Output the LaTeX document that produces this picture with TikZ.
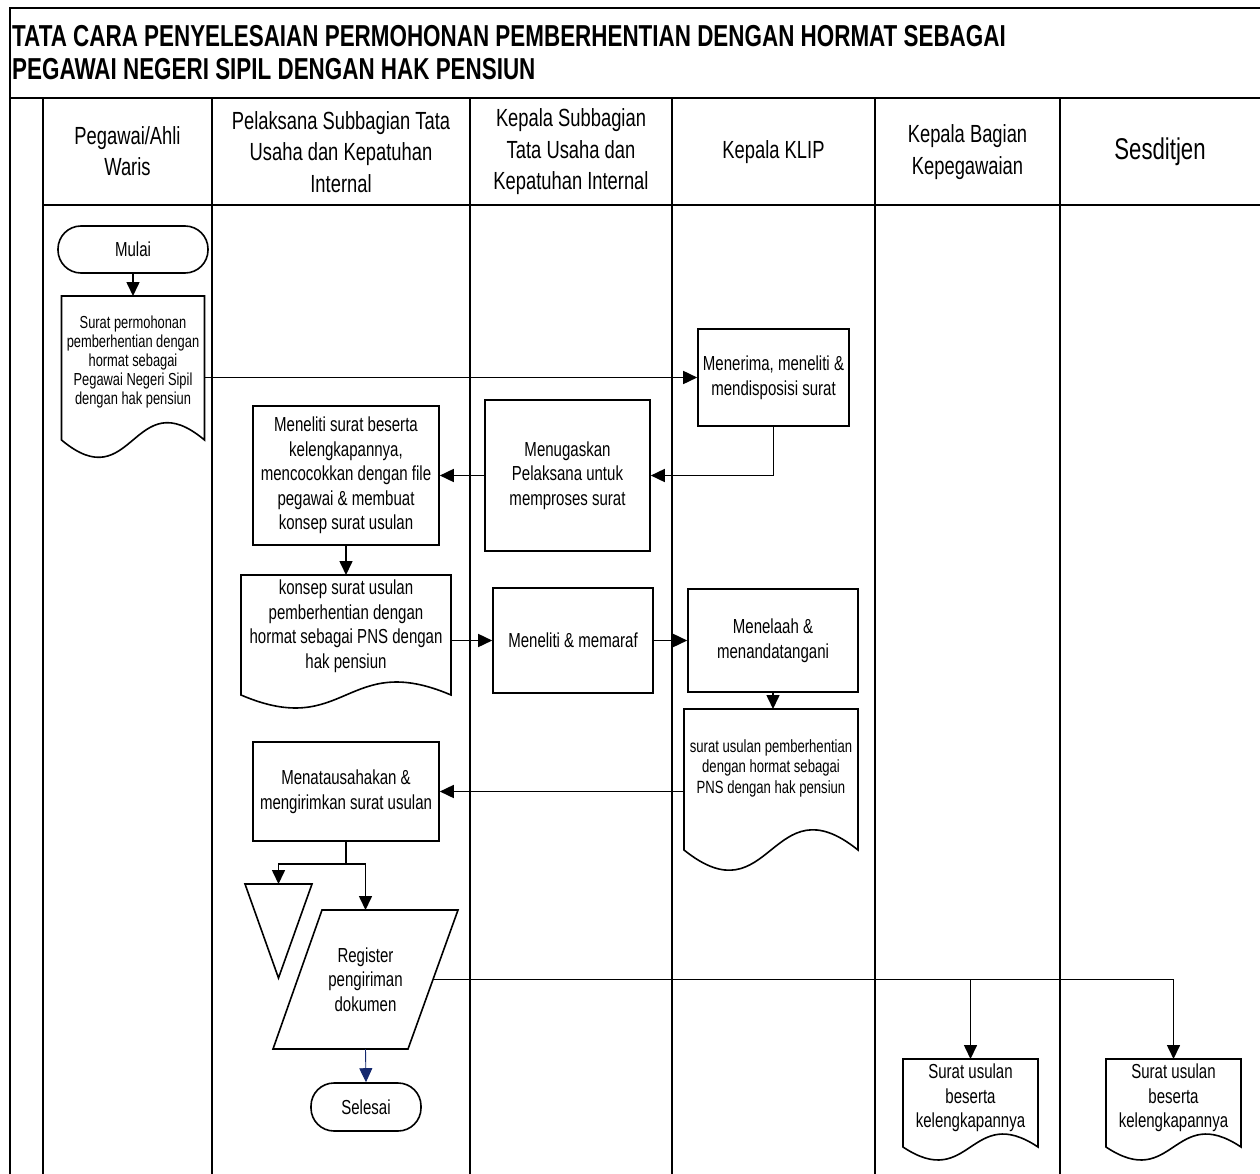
\documentclass[tikz,border=0pt]{standalone}
\usepackage{fontspec}
\setmainfont{Liberation Sans}[FakeStretch=0.74]
\usetikzlibrary{arrows.meta,calc}
\definecolor{navyarrow}{RGB}{20,40,110}
\newcommand\fsz[2]{\fontsize{#1}{#2}\selectfont}
\newcommand\docoutline[2]{\draw[shp] (#1.north west) -- (#1.north east) -- (#1.south east) .. controls ($(#1.south)+(0,-#2)$) and ($(#1.south)+(0,#2)$) .. (#1.south west) -- cycle;}
\begin{document}
\begin{tikzpicture}[x=1pt,y=-1pt,
  box/.style={draw, line width=1.6pt, align=center, inner sep=0pt, font=\fsz{20.3}{24.5}},
  term/.style={box, rounded corners=23pt},
  frame/.style={draw=none, inner sep=0pt, outer sep=0pt},
  shp/.style={line width=1.6pt, line join=miter},
  txt/.style={align=center, inner sep=0pt, font=\fsz{20.3}{24.5}},
  arr/.style={line width=1.6pt, -{Triangle[length=14pt,width=13pt]}},
  conn/.style={line width=1.6pt},
  lane/.style={line width=2pt},
  hdr/.style={align=center, inner sep=0pt, font=\fsz{24.8}{31.5}},
  ttl/.style={anchor=base west, inner sep=0pt, font=\bfseries\fsz{30.3}{33}}
]
\useasboundingbox (0,0) rectangle (1260,1174);
\fill[white] (0,0) rectangle (1260,1174);

% frame and lanes
\draw[line width=2.5pt] (10,1180) -- (10,8) -- (1270,8);
\draw[lane] (10,98) -- (1270,98);
\draw[lane] (43,98) -- (43,1180);
\draw[lane] (43,205) -- (1270,205);
\foreach \x in {212,470,672,875,1060} \draw[lane] (\x,98) -- (\x,1180);

% title
\node[ttl] (title1) at (12,47) {TATA CARA PENYELESAIAN PERMOHONAN PEMBERHENTIAN DENGAN HORMAT SEBAGAI};
\node[ttl] (title2) at (12,80) {PEGAWAI NEGERI SIPIL DENGAN HAK PENSIUN};

% headers
\node[hdr] (h1) at (127.5,151) {Pegawai/Ahli\\Waris};
\node[hdr] (h2) at (341,152) {Pelaksana Subbagian Tata\\Usaha dan Kepatuhan\\Internal};
\node[hdr] (h3) at (571,152) {Kepala Subbagian\\Tata Usaha dan\\Kepatuhan Internal};
\node[hdr] (h4) at (773.5,152) {Kepala KLIP};
\node[hdr] (h5) at (967.5,152) {Kepala Bagian\\Kepegawaian};
\node[hdr, font=\fsz{30}{34}] (h6) at (1160,152) {Sesditjen};

% nodes
\node[term, minimum width=150, minimum height=47] (mulai) at (133,249.5) {Mulai};
\node[frame, minimum width=143, minimum height=144, anchor=north] (d1) at (133,296) {};
\node[txt, font=\fsz{17.4}{19}] (d1t) at (133,362) {Surat permohonan\\pemberhentian dengan\\hormat sebagai\\Pegawai Negeri Sipil\\dengan hak pensiun};
\node[box, minimum width=151, minimum height=97] (menerima) at (773.5,377.5) {Menerima, meneliti \&\\mendisposisi surat};
\node[box, minimum width=165, minimum height=151] (menugaskan) at (567.5,475.5) {Menugaskan\\Pelaksana untuk\\memproses surat};
\node[box, minimum width=186, minimum height=139] (meneliti) at (346,475.5) {Meneliti surat beserta\\kelengkapannya,\\mencocokkan dengan file\\pegawai \& membuat\\konsep surat usulan};
\node[frame, minimum width=210, minimum height=120, anchor=north] (d2) at (346,575) {};
\node[txt] (d2t) at (346,626) {konsep surat usulan\\pemberhentian dengan\\hormat sebagai PNS dengan\\hak pensiun};
\node[box, minimum width=160, minimum height=105] (memaraf) at (573,640.5) {Meneliti \& memaraf};
\node[box, minimum width=170, minimum height=103] (menelaah) at (773,640.5) {Menelaah \&\\menandatangani};
\node[frame, minimum width=174, minimum height=141, anchor=north] (d3) at (771,709) {};
\node[txt, font=\fsz{17.7}{20.5}] (d3t) at (771,768) {surat usulan pemberhentian\\dengan hormat sebagai\\PNS dengan hak pensiun};
\node[box, minimum width=186, minimum height=99] (menatausaha) at (346,791.5) {Menatausahakan \&\\mengirimkan surat usulan};
\node[frame, minimum width=67, minimum height=94, anchor=north] (tri) at (278.5,884) {};
\node[frame, txt, minimum width=185, minimum height=139, anchor=north] (reg) at (365.5,910) {Register\\pengiriman\\dokumen};
\node[term, minimum width=110, minimum height=48] (selesai) at (366,1107) {Selesai};
\node[frame, minimum width=135, minimum height=88, anchor=north] (d4) at (970.5,1059) {};
\node[txt] (d4t) at (970.5,1098) {Surat usulan\\beserta\\kelengkapannya};
\node[frame, minimum width=135, minimum height=88, anchor=north] (d5) at (1173.5,1059) {};
\node[txt] (d5t) at (1173.5,1098) {Surat usulan\\beserta\\kelengkapannya};

% outlines
\docoutline{d1}{60}
\docoutline{d2}{45}
\docoutline{d3}{70}
\docoutline{d4}{45}
\docoutline{d5}{45}
\draw[shp] (tri.north west) -- (tri.north east) -- (tri.south) -- cycle;
\draw[shp] ($(reg.north west)+(49,0)$) -- (reg.north east) -- ($(reg.south east)+(-50,0)$) -- (reg.south west) -- cycle;

% connectors
\draw[arr] (mulai.south) -- (d1.north);
\draw[arr] (d1.east |- menerima.west) -- (menerima.west);
\draw[arr] (menerima.south) |- (menugaskan.east);
\draw[arr] (menugaskan.west) -- (meneliti.east);
\draw[arr] (meneliti.south) -- (d2.north);
\draw[arr] (d2.east |- memaraf.west) -- (memaraf.west);
\draw[arr] (memaraf.east) -- (menelaah.west);
\draw[arr] (menelaah.south) -- (menelaah.south |- d3.north);
\draw[arr] (d3.west |- menatausaha.east) -- (menatausaha.east);
\draw[conn] (menatausaha.south) -- ++(0,22) coordinate (split);
\draw[arr] (split) -| (tri.north);
\draw[arr] (split) -| (reg.north);
\draw[arr, draw=navyarrow, line width=0.9pt] (reg.south) -- (selesai.north);
\draw[arr] ($(reg.east)+(-25,0)$) -| (d5.north);
\draw[arr] (d4.north |- reg.east) -- (d4.north);
\end{tikzpicture}
\end{document}
